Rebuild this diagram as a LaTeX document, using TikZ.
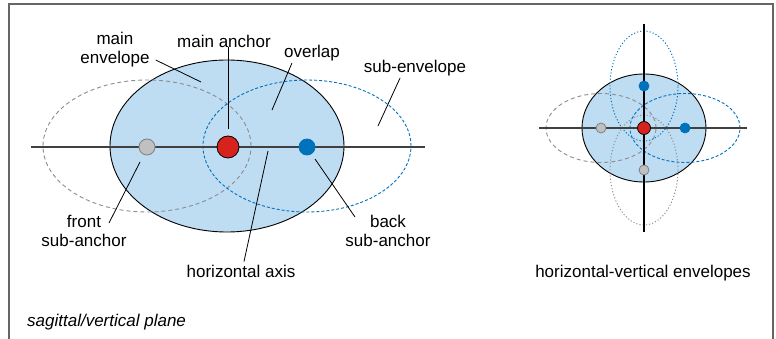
\documentclass[tikz,border=0pt]{standalone}
\usepackage{fontspec}
\setmainfont{Liberation Sans}
\usetikzlibrary{calc}
\definecolor{envfill}{RGB}{190,220,242}
\definecolor{subblue}{RGB}{0,114,188}
\definecolor{ancred}{RGB}{215,35,30}
\definecolor{subgray}{RGB}{192,192,192}

\begin{document}
\begin{tikzpicture}[x=1pt, y=-1pt,
    lbl/.style={inner sep=0pt, align=center, font=\fontsize{17}{19}\selectfont},
    leader/.style={draw=black, line width=0.8pt},
    axis/.style={draw=black!75, line width=1.2pt},
    envelope/.style={draw=black, fill=envfill, line width=0.9pt},
    gdash/.style={draw=black!45, line width=0.9pt, dash pattern=on 4pt off 3pt},
    bdash/.style={draw=subblue, line width=0.9pt, dash pattern=on 3pt off 2pt},
    gdots/.style={draw=black!45, line width=0.9pt, dash pattern=on 1.2pt off 2pt},
    bdots/.style={draw=subblue, line width=0.9pt, dash pattern=on 1.2pt off 2pt},
    reddot/.style={circle, inner sep=0pt, fill=ancred, draw=black, line width=0.8pt},
    graydot/.style={circle, inner sep=0pt, fill=subgray, draw=black!50, line width=0.8pt},
    bluedot/.style={circle, inner sep=0pt, fill=subblue, draw=subblue, line width=0.8pt}]
  \useasboundingbox (0,0) rectangle (776,339);
  \draw[draw=black!60, line width=1.2pt] (9,339) -- (9,4) -- (773,4) -- (773,339);

  \draw[envelope] (227,146) ellipse [x radius=117pt, y radius=86pt];
  \draw[gdash] (147,146) ellipse [x radius=104pt, y radius=66pt];
  \draw[bdash] (307,146) ellipse [x radius=104pt, y radius=66pt];
  \draw[axis] (31,147) -- (425,147);
  \node[graydot, minimum size=16pt] (fa) at (147,147) {};
  \node[reddot, minimum size=22pt] (ma) at (228,147) {};
  \node[bluedot, minimum size=16pt] (ba) at (307,147) {};

  \node[lbl] (menv) at (115,50) {main\\envelope};
  \node[lbl] (manc) at (224,41) {main anchor};
  \node[lbl] (ovl) at (312,53) {overlap};
  \node[lbl] (senv) at (415,68) {sub-envelope};
  \node[lbl] (fsa) at (84,231) {front\\sub-anchor};
  \node[lbl] (bsa) at (388,231) {back\\sub-anchor};
  \node[lbl] (hax) at (241,271) {horizontal axis};
  \node[lbl, font=\fontsize{17}{19}\selectfont\itshape, anchor=west] (sag) at (27,322) {sagittal/vertical plane};

  \coordinate (pmenv) at (201,82);
  \coordinate (povl) at (272,110);
  \coordinate (psenv) at (378,126);
  \coordinate (pfsa) at (140,162);
  \coordinate (pbsa) at (315,159);
  \coordinate (phax) at (268,151);
  \draw[leader] ($(menv.east)+(6,10)$) -- (pmenv);
  \draw[leader] (ma |- manc.south) -- ($(ma.north)+(0,-7)$);
  \draw[leader] ($(ovl.south west)+(8,2)$) -- (povl);
  \draw[leader] ($(senv.south)+(-15,2)$) -- (psenv);
  \draw[leader] ($(fsa.center)+(25,-8)$) -- (pfsa);
  \draw[leader] ($(bsa.center)+(-33,-14)$) -- (pbsa);
  \draw[leader] ($(hax.north)+(3,-3)$) -- (phax);

  \draw[envelope] (644,128) ellipse [x radius=62pt, y radius=54pt];
  \draw[gdash] (601,128) ellipse [x radius=55pt, y radius=34.5pt];
  \draw[bdash] (685,128) ellipse [x radius=55pt, y radius=34.5pt];
  \draw[gdots] (644,170) ellipse [x radius=34pt, y radius=55pt];
  \draw[bdots] (644,86) ellipse [x radius=34pt, y radius=55pt];
  \draw[axis] (539,128) -- (747,128);
  \draw[axis, draw=black] (644,24) -- (644,232);
  \foreach \s/\n/\x/\y in {graydot/hf/601/128, bluedot/hb/685/128, bluedot/vt/644/86, graydot/vb/644/170}{
    \node[\s, minimum size=10pt] (\n) at (\x,\y) {};
  }
  \node[reddot, minimum size=13pt] (hm) at (644,128) {};
  \node[lbl] (hve) at (643,273) {horizontal-vertical envelopes};
\end{tikzpicture}
\end{document}
